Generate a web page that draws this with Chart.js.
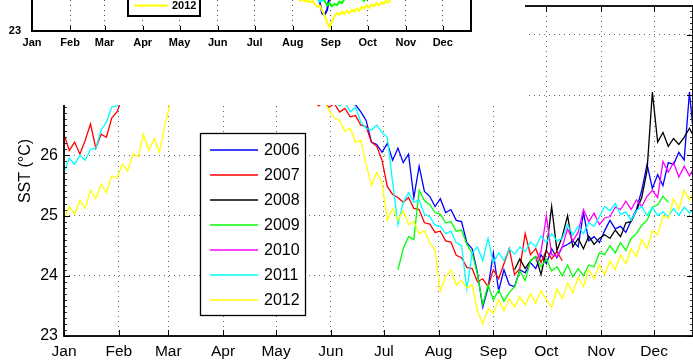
<!DOCTYPE html>
<html><head><meta charset="utf-8">
<script src="https://cdn.jsdelivr.net/npm/chart.js@4.4.1/dist/chart.umd.min.js"></script>
<style>
html,body{margin:0;padding:0;background:#fff;overflow:hidden;width:693px;height:361px}
canvas{position:absolute;left:0;top:0;display:block}
</style></head><body>
<canvas id="main" width="693" height="361"></canvas>
<canvas id="inset" width="525" height="105"></canvas>
<script>
const monthLabels = ['Jan','Feb','Mar','Apr','May','Jun','Jul','Aug','Sep','Oct','Nov','Dec'];
const monthStartDays = [0,31,59,90,120,151,181,212,243,273,304,334];
const yTickValues = [23,24,25,26,27,28];
const yearLabels = ['2006','2007','2008','2009','2010','2011','2012'];
const yearColors = ['#0000ff','#ff0000','#000000','#00ff00','#ff00ff','#00ffff','#ffff00'];

// day of year of each sample (main panel)
const days = [0,3,6,9,12,15,18,21,24,27,30,33,36,39,42,45,48,51,54,57,60,63,66,69,72,75,78,81,84,87,
  90,93,96,99,102,105,108,111,114,117,120,123,126,129,132,135,138,141,144,147,150,153,156,159,162,165,168,171,174,177,
  180,183,186,189,192,195,198,201,204,207,210,213,216,219,222,225,228,231,234,237,240,243,246,249,252,255,258,261,264,267,
  270,273,276,279,282,285,288,291,294,297,300,303,306,309,312,315,318,321,324,327,330,333,336,339,342,345,348,351,354,357];

// first index in `days` for each series
const sst2006Start = 48, sst2007Start = 0, sst2008Start = 85, sst2009Start = 63, sst2010Start = 89, sst2011Start = 0, sst2012Start = 0;

const sst2006 = [27.30,27.10,27.00,26.95,26.90,26.88,26.86,26.84,26.72,26.58,26.22,26.18,26.05,26.20,25.92,26.12,25.88,26.02,25.30,25.82,
  25.40,25.32,25.15,25.28,25.05,25.10,24.92,24.90,24.55,24.45,24.05,23.48,23.80,24.38,23.75,24.10,23.85,23.82,24.10,24.05,
  24.22,24.12,24.35,24.20,24.45,24.30,24.48,24.52,24.58,24.48,25.05,24.58,24.65,24.55,24.75,24.92,24.78,24.82,24.72,24.92,
  25.10,25.42,25.85,25.45,25.68,25.50,25.88,25.85,26.05,25.92,27.05,26.12];
const sst2007 = [26.35,26.08,26.22,26.02,26.25,26.52,26.12,26.35,26.30,26.62,26.72,26.95,27.15,
  27.3,27.4,27.5,27.6,27.7,27.8,27.9,28.0,28.0,28.1,28.1,28.2,28.2,28.3,28.3,28.3,28.3,28.4,28.4,28.4,28.3,28.3,28.3,28.2,28.2,28.1,28.1,28.0,27.9,27.8,27.7,27.5,27.4,27.2,26.95,
  26.82,26.88,26.80,26.86,26.72,26.78,26.64,26.66,26.50,26.48,26.22,26.15,25.92,25.48,25.35,25.30,25.22,25.30,25.12,25.10,
  24.88,24.86,24.72,24.74,24.58,24.56,24.34,24.30,24.14,24.12,23.90,23.95,23.82,24.10,23.95,24.20,24.45,24.02,24.12,24.70,
  24.35,24.45,24.22,24.42,24.28,24.40,24.25];
const sst2008 = [24.10,24.28,24.12,24.25,24.32,24.02,24.42,25.15,24.42,24.65,25.00,24.48,24.62,24.45,24.66,24.52,24.62,24.68,24.62,24.76,
  24.65,24.88,24.90,25.08,25.30,25.75,27.05,26.22,26.38,26.15,26.28,26.18,26.30,26.45,26.28];
const sst2009 = [24.10,24.45,24.65,24.60,25.42,25.25,25.18,25.05,25.02,24.88,24.90,24.74,24.76,24.52,24.38,24.02,23.52,23.85,23.60,23.76,
  23.58,23.72,23.82,24.08,23.92,24.25,24.32,24.15,24.28,24.08,24.15,24.00,24.18,23.98,24.12,24.00,24.18,24.15,24.38,24.35,
  24.50,24.38,24.55,24.42,24.62,24.70,24.84,24.92,25.14,25.18,25.32,25.22];
const sst2010 = [24.25,24.40,25.00,24.35,24.32,24.48,24.78,24.58,24.72,25.10,24.90,25.04,24.85,24.96,24.98,25.14,25.10,25.24,25.10,25.26,
  25.15,25.32,25.42,25.30,25.90,25.72,25.88,25.64,25.82,25.66,25.82];
const sst2011 = [25.72,25.95,25.85,26.00,25.92,26.10,26.12,26.42,26.55,26.80,26.82,26.90,27.05,
  27.2,27.3,27.4,27.5,27.6,27.7,27.8,27.9,28.0,28.0,28.1,28.1,28.2,28.2,28.2,28.3,28.3,28.3,28.3,28.3,28.2,28.2,28.2,28.1,28.1,28.0,27.9,27.9,27.8,27.7,27.6,27.5,27.4,27.3,27.2,27.1,27.0,
  26.95,26.90,26.82,26.88,26.72,26.80,26.55,26.45,26.42,26.50,26.38,26.30,25.55,24.85,25.22,25.38,25.22,25.26,25.02,24.98,
  24.84,24.82,24.70,24.74,24.55,24.50,23.78,24.38,24.48,24.25,24.62,24.22,24.38,24.25,24.45,24.36,24.48,24.40,24.56,24.48,
  24.66,24.55,24.70,24.58,24.62,24.85,24.68,24.82,24.70,24.88,24.82,24.98,25.15,25.08,25.20,25.02,25.06,24.92,25.08,25.15,
  25.00,25.14,25.00,25.06,24.98,25.12,25.00,25.14,25.04,25.12];
const sst2012 = [24.95,25.15,25.02,25.25,25.12,25.42,25.28,25.52,25.38,25.66,25.62,25.86,25.74,26.02,25.98,26.35,26.08,26.28,26.05,26.48,26.85,27.20,27.40,
  27.5,27.6,27.7,27.8,27.9,28.0,28.0,28.1,28.1,28.2,28.2,28.2,28.3,28.3,28.3,28.3,28.2,28.2,28.2,28.1,28.0,27.9,27.8,27.6,27.4,
  27.15,26.92,26.75,26.62,26.58,26.40,26.45,26.22,26.25,25.85,25.50,25.72,25.55,24.92,25.12,24.92,25.08,24.85,24.90,24.70,
  24.75,24.55,24.42,23.75,23.98,24.10,23.85,23.92,23.80,23.85,23.42,23.20,23.45,23.38,23.60,23.42,23.62,23.48,23.65,23.52,
  23.70,23.55,23.75,23.60,23.48,23.78,23.62,23.88,23.72,23.98,23.82,24.10,23.95,24.18,24.02,24.25,24.10,24.35,24.20,24.45,
  24.32,24.60,24.45,24.75,24.68,25.00,24.95,25.28,25.10,25.42,25.25,25.45];

// inset panel (top-left, partly visible)
const insetDays = [216,218,220,222,224,226,228,230,232,234,236,238,240,242,244,246,248,250,252,254,256,258,260,262,264,266,268,270,272,274,276,278,280,282,284,286,288,290,292,294,296];
const insetSst2006 = [24.3,24.2,24.25,24.1,24.2,24.05,24.1,23.95,23.9,23.75,23.45,23.42,23.55,23.9,
  24.0,24.1,24.05,24.1,24.2,24.15,24.2,24.25,24.2,24.3,24.25,24.3,24.35,24.3,24.4,24.35,24.4,24.45,24.4,24.5,24.45,24.5,24.55,24.5,24.6,24.55,24.6];
const insetSst2009 = [24.2,24.15,24.1,24.1,24.05,24.0,24.0,23.95,23.9,23.88,23.85,23.78,23.66,23.72,23.64,23.70,23.67,23.76,23.72,23.82,
  23.85,23.9,23.88,23.92,23.86,23.9,23.84,23.78,23.85,23.9,23.95,23.92,23.98,24.0,23.95,24.05,24.1,24.05,24.1,24.15,24.2];
const insetSst2011 = [24.3,24.25,24.2,24.2,24.1,24.05,24.0,23.95,23.85,23.76,23.78,23.9,
  24.0,23.95,24.05,24.0,24.1,24.05,24.1,24.15,24.1,24.2,24.15,24.2,24.25,24.2,24.3,24.25,24.3,24.35,24.3,24.4,24.35,24.4,24.45,24.4,24.5,24.45,24.5,24.55,24.5];
const insetSst2012 = [23.90,23.78,23.82,23.76,23.80,23.74,23.78,23.70,23.62,23.66,23.52,23.40,23.22,23.10,23.25,23.38,23.46,23.42,23.50,23.44,
  23.52,23.46,23.55,23.50,23.58,23.52,23.62,23.58,23.66,23.60,23.68,23.64,23.72,23.66,23.74,23.70,23.78,23.74,23.85,23.92,24.00];

Chart.defaults.font.family = "'Liberation Sans', Arial, Helvetica, sans-serif";
Chart.defaults.color = '#000';

const mainValues = [sst2006, sst2007, sst2008, sst2009, sst2010, sst2011, sst2012];
const mainStarts = [sst2006Start, sst2007Start, sst2008Start, sst2009Start, sst2010Start, sst2011Start, sst2012Start];

const mainDatasets = yearLabels.map((lab, k) => ({
  label: lab,
  data: mainValues[k].map((v, j) => ({x: days[mainStarts[k] + j], y: v})),
  borderColor: yearColors[k], backgroundColor: yearColors[k],
  borderWidth: 1.3, pointRadius: 0, tension: 0, fill: false, order: 7 - k
}));

function zeroPad(s){ s.paddingTop = 0; s.paddingBottom = 0; s.paddingLeft = 0; s.paddingRight = 0; }

const mainFrame = {
  id: 'mainFrame',
  afterDraw(chart) {
    const {ctx, chartArea: {left, right, top, bottom}, scales: {x, y}} = chart;
    ctx.save();
    ctx.strokeStyle = '#000';
    ctx.lineWidth = 1;
    ctx.beginPath();
    monthStartDays.forEach(d => {
      const px = Math.round(x.getPixelForValue(d)) + 0.5;
      ctx.moveTo(px, bottom); ctx.lineTo(px, bottom - 6);
      ctx.moveTo(px, top); ctx.lineTo(px, top + 6);
    });
    yTickValues.forEach(v => {
      const py = Math.round(y.getPixelForValue(v)) + 0.5;
      ctx.moveTo(left, py); ctx.lineTo(left + 6, py);
      ctx.moveTo(right, py); ctx.lineTo(right - 6, py);
    });
    ctx.stroke();
    // minor ticks
    ctx.strokeStyle = '#333';
    ctx.beginPath();
    for (let m = 231; m < 285; m++) {
      if (m % 10 === 0) continue;
      const py = Math.round(y.getPixelForValue(m / 10)) + 0.5;
      ctx.moveTo(left, py); ctx.lineTo(left + 3, py);
      ctx.moveTo(right, py); ctx.lineTo(right - 3, py);
    }
    ctx.stroke();
    // frame
    ctx.strokeStyle = '#000';
    ctx.lineWidth = 1.8;
    ctx.strokeRect(left, top, right - left, bottom - top);
    // legend
    ctx.fillStyle = '#fff';
    ctx.fillRect(200, 133, 105, 182);
    ctx.lineWidth = 1.3;
    ctx.strokeRect(200.5, 133.5, 105, 182);
    ctx.font = "16px 'Liberation Sans', Arial, sans-serif";
    ctx.textBaseline = 'middle';
    ctx.textAlign = 'left';
    yearLabels.forEach((lab, k) => {
      const ly = 150 + 25 * k;
      ctx.strokeStyle = yearColors[k];
      ctx.lineWidth = 1.6;
      ctx.beginPath(); ctx.moveTo(210, ly); ctx.lineTo(258, ly); ctx.stroke();
      ctx.fillStyle = '#000';
      ctx.fillText(lab, 264, ly + 1);
    });
    ctx.restore();
  }
};

new Chart(document.getElementById('main'), {
  type: 'line',
  data: {datasets: mainDatasets},
  options: {
    responsive: false, animation: false, devicePixelRatio: 1,
    layout: {padding: {top: 6, left: 0, right: 0, bottom: 0}},
    plugins: {legend: {display: false}, tooltip: {enabled: false}},
    scales: {
      x: {
        type: 'linear', min: 0, max: 356,
        afterBuildTicks: s => { s.ticks = monthStartDays.map(v => ({value: v})); },
        afterFit: s => { s.height = 25; zeroPad(s); },
        ticks: {autoSkip: false, maxRotation: 0, minRotation: 0, padding: 6, color: '#000', font: {size: 15.5},
                callback: (v, i) => monthLabels[i]},
        grid: {color: '#666', lineWidth: 1, drawTicks: false},
        border: {display: false, dash: [1, 4]}
      },
      y: {
        type: 'linear', min: 23, max: 28.48,
        afterBuildTicks: s => { s.ticks = yTickValues.map(v => ({value: v})); },
        afterFit: s => { s.width = 64; zeroPad(s); },
        ticks: {padding: 6, color: '#000', font: {size: 16}},
        grid: {color: '#666', lineWidth: 1, drawTicks: false},
        border: {display: false, dash: [1, 4]},
        title: {display: true, text: 'SST (°C)', color: '#000', font: {size: 16}, padding: {top: 16, bottom: 0}}
      }
    }
  },
  plugins: [mainFrame]
});

// ---- inset ----
const insetSeries = [
  {k: 0, values: insetSst2006},
  {k: 3, values: insetSst2009},
  {k: 5, values: insetSst2011},
  {k: 6, values: insetSst2012}
];
const insetDatasets = insetSeries.map((s, n) => ({
  label: yearLabels[s.k],
  data: s.values.map((v, j) => ({x: insetDays[j], y: v})),
  borderColor: yearColors[s.k], borderWidth: 2, pointRadius: 0, tension: 0, fill: false, order: 10 - n
}));

const insetFrame = {
  id: 'insetFrame',
  beforeDraw(chart) {
    const ctx = chart.ctx;
    ctx.save(); ctx.fillStyle = '#fff'; ctx.fillRect(0, 0, chart.width, chart.height); ctx.restore();
  },
  afterDraw(chart) {
    const {ctx, chartArea: {left, right, top, bottom}, scales: {x}} = chart;
    ctx.save();
    ctx.strokeStyle = '#000';
    ctx.lineWidth = 1;
    ctx.beginPath();
    monthStartDays.forEach(d => {
      const px = Math.round(x.getPixelForValue(d)) + 0.5;
      ctx.moveTo(px, bottom); ctx.lineTo(px, bottom - 5);
    });
    ctx.stroke();
    ctx.lineWidth = 2;
    ctx.beginPath();
    ctx.moveTo(left, -5); ctx.lineTo(left, bottom); ctx.lineTo(right, bottom); ctx.lineTo(right, -5);
    ctx.stroke();
    // legend (only the lowest entry falls inside the view)
    ctx.fillStyle = '#fff';
    ctx.fillRect(127, -110, 73, 126);
    ctx.strokeRect(128, -110, 72, 126);
    ctx.font = "bold 11px 'Liberation Sans', Arial, sans-serif";
    ctx.textBaseline = 'middle';
    ctx.textAlign = 'left';
    yearLabels.forEach((lab, k) => {
      const ly = 5.5 - 15 * (6 - k);
      ctx.strokeStyle = yearColors[k];
      ctx.lineWidth = 2;
      ctx.beginPath(); ctx.moveTo(134, ly); ctx.lineTo(168, ly); ctx.stroke();
      ctx.fillStyle = '#000';
      ctx.fillText(lab, 172, ly + 0.5);
    });
    ctx.restore();
  }
};

new Chart(document.getElementById('inset'), {
  type: 'line',
  data: {datasets: insetDatasets},
  options: {
    responsive: false, animation: false, devicePixelRatio: 1,
    layout: {padding: {top: 0, left: 0, right: 54, bottom: 0}},
    plugins: {legend: {display: false}, tooltip: {enabled: false}},
    scales: {
      x: {
        type: 'linear', min: 0, max: 357,
        afterBuildTicks: s => { s.ticks = monthStartDays.map(v => ({value: v})); },
        afterFit: s => { s.height = 74; zeroPad(s); },
        ticks: {autoSkip: false, maxRotation: 0, minRotation: 0, padding: 5, color: '#000', font: {size: 11, weight: 'bold'},
                callback: (v, i) => monthLabels[i]},
        grid: {color: '#444', lineWidth: 1, drawTicks: false},
        border: {display: false, dash: [1, 4]}
      },
      y: {
        type: 'linear', min: 23, max: 23.8,
        afterBuildTicks: s => { s.ticks = [{value: 23}]; },
        afterFit: s => { s.width = 32; zeroPad(s); },
        ticks: {padding: 3, color: '#000', font: {size: 11, weight: 'bold'}},
        grid: {display: false},
        border: {display: false}
      }
    }
  },
  plugins: [insetFrame]
});
</script>
</body></html>
